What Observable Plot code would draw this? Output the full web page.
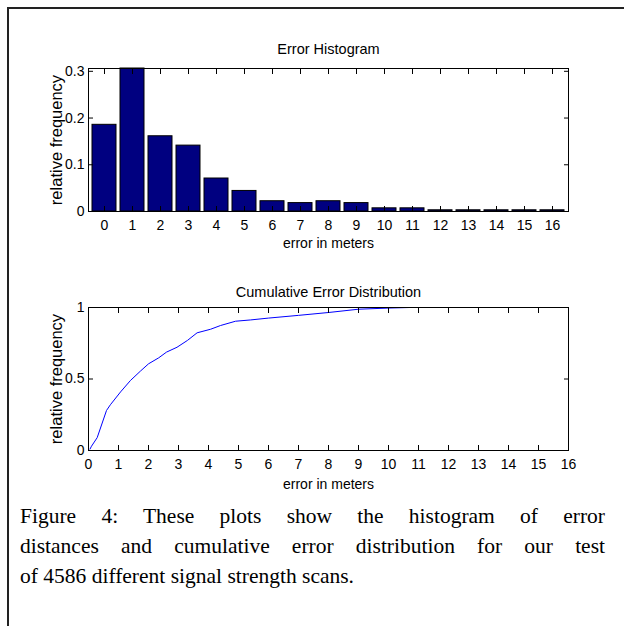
<!DOCTYPE html>
<html><head><meta charset="utf-8">
<script src="https://cdn.jsdelivr.net/npm/d3@7"></script>
<script src="https://cdn.jsdelivr.net/npm/@observablehq/plot@0.6"></script>
<style>
body{margin:0;background:#fff;}
#wrap{position:relative;width:624px;height:626px;overflow:hidden;background:#fff;}
#border{position:absolute;left:7px;top:7px;width:640px;height:640px;border-top:2px solid #222;border-left:2px solid #222;}
.p{position:absolute;left:0;}
.cap{position:absolute;left:20px;width:585px;font-family:"Liberation Serif","Times New Roman",serif;font-size:21.5px;line-height:30px;color:#000;}
.j{text-align:justify;text-align-last:justify;}
.l{text-align:left;white-space:nowrap;}
</style></head><body>
<div id="wrap">
<div id="border"></div>
<div id="p1" class="p" style="top:0px"></div>
<div id="p2" class="p" style="top:250px"></div>
<div class="cap" style="top:501px">
<div class="j">Figure 4: These plots show the histogram of error</div>
<div class="j">distances and cumulative error distribution for our test</div>
<div class="l">of 4586 different signal strength scans.</div>
</div>
</div>
<script>
// ---- data ----
const errorBins = [0,1,2,3,4,5,6,7,8,9,10,11,12,13,14,15,16];
const relFreq = [0.1855,0.306,0.161,0.141,0.0706,0.044,0.022,0.018,0.022,0.018,0.0068,0.0068,0.0026,0.0026,0.0026,0.0026,0.0026];
const cdfError = [0.05,0.1,0.29,0.6,0.73,1.07,1.4,1.73,2.0,2.34,2.6,2.95,3.3,3.62,4.07,4.4,4.9,5.4,6,7,8,9,10,10.7,16];
const cdfFreq  = [0.01,0.03,0.09,0.28,0.32,0.41,0.49,0.555,0.606,0.648,0.688,0.722,0.77,0.823,0.848,0.874,0.904,0.913,0.926,0.945,0.965,0.988,0.996,1.0,1.0];
const xTickValues = [0,1,2,3,4,5,6,7,8,9,10,11,12,13,14,15,16];
const histYTicks = [0,0.1,0.2,0.3];
const cdfYTicks = [0,0.5,1];
const histTitle = "Error Histogram";
const cdfTitle = "Cumulative Error Distribution";
const xLabel = "error in meters";
const yLabel = "relative frequency";

const histTable = errorBins.map((b,i)=>({bin:b, freq:relFreq[i]}));
const cdfTable = cdfError.map((e,i)=>({err:e, freq:cdfFreq[i]}));

const font = '"Liberation Sans Narrow","Arial Narrow","Liberation Sans",Arial,sans-serif';
const style = {fontFamily:font, fontSize:"14px", color:"#000", background:"transparent", overflow:"visible"};
const blank = () => "";
const plain = d => `${d}`;

function frameAxes(xt, yt) {
  return [
    Plot.frame({stroke:"#000", strokeWidth:1}),
    Plot.axisX(xt, {anchor:"bottom", tickSize:0, tickPadding:9, tickFormat:plain, label:null}),
    Plot.axisX(xt, {anchor:"bottom", tickSize:5, dy:-5, tickFormat:blank, label:null}),
    Plot.axisX(xt, {anchor:"top", tickSize:5, dy:5, tickFormat:blank, label:null}),
    Plot.axisY(yt, {anchor:"left", tickSize:0, tickPadding:4, tickFormat:plain, label:null}),
    Plot.axisY(yt, {anchor:"left", tickSize:5, dx:5, tickFormat:blank, label:null}),
    Plot.axisY(yt, {anchor:"right", tickSize:5, dx:-5, tickFormat:blank, label:null})
  ];
}

const hist = Plot.plot({
  width:624, height:262, marginLeft:88, marginRight:56, marginTop:68, marginBottom:51,
  style,
  x:{type:"band", domain:errorBins, paddingInner:0.14, paddingOuter:0.07, label:null},
  y:{domain:[0,0.306], label:null},
  marks:[
    Plot.barY(histTable, {x:"bin", y:"freq", fill:"#000080", stroke:"#000", strokeWidth:1}),
    ...frameAxes(xTickValues, histYTicks),
    Plot.text([histTitle], {frameAnchor:"top", lineAnchor:"middle", textAnchor:"middle", dy:-19, fontSize:14.5}),
    Plot.text([yLabel], {frameAnchor:"left", lineAnchor:"middle", textAnchor:"middle", rotate:-90, dx:-32, fontSize:16.5}),
    Plot.text([xLabel], {frameAnchor:"bottom", lineAnchor:"middle", textAnchor:"middle", dy:32})
  ]
});
document.getElementById("p1").appendChild(hist);

const cdf = Plot.plot({
  width:624, height:250, marginLeft:88, marginRight:56, marginTop:57, marginBottom:50,
  style,
  x:{domain:[0,16], label:null},
  y:{domain:[0,1], label:null},
  marks:[
    Plot.line(cdfTable, {x:"err", y:"freq", stroke:"#0000ff", strokeWidth:1}),
    ...frameAxes(xTickValues, cdfYTicks),
    Plot.text([cdfTitle], {frameAnchor:"top", lineAnchor:"middle", textAnchor:"middle", dy:-15, fontSize:14.5}),
    Plot.text([yLabel], {frameAnchor:"left", lineAnchor:"middle", textAnchor:"middle", rotate:-90, dx:-32, fontSize:16.5}),
    Plot.text([xLabel], {frameAnchor:"bottom", lineAnchor:"middle", textAnchor:"middle", dy:34})
  ]
});
document.getElementById("p2").appendChild(cdf);
</script>
</body></html>
